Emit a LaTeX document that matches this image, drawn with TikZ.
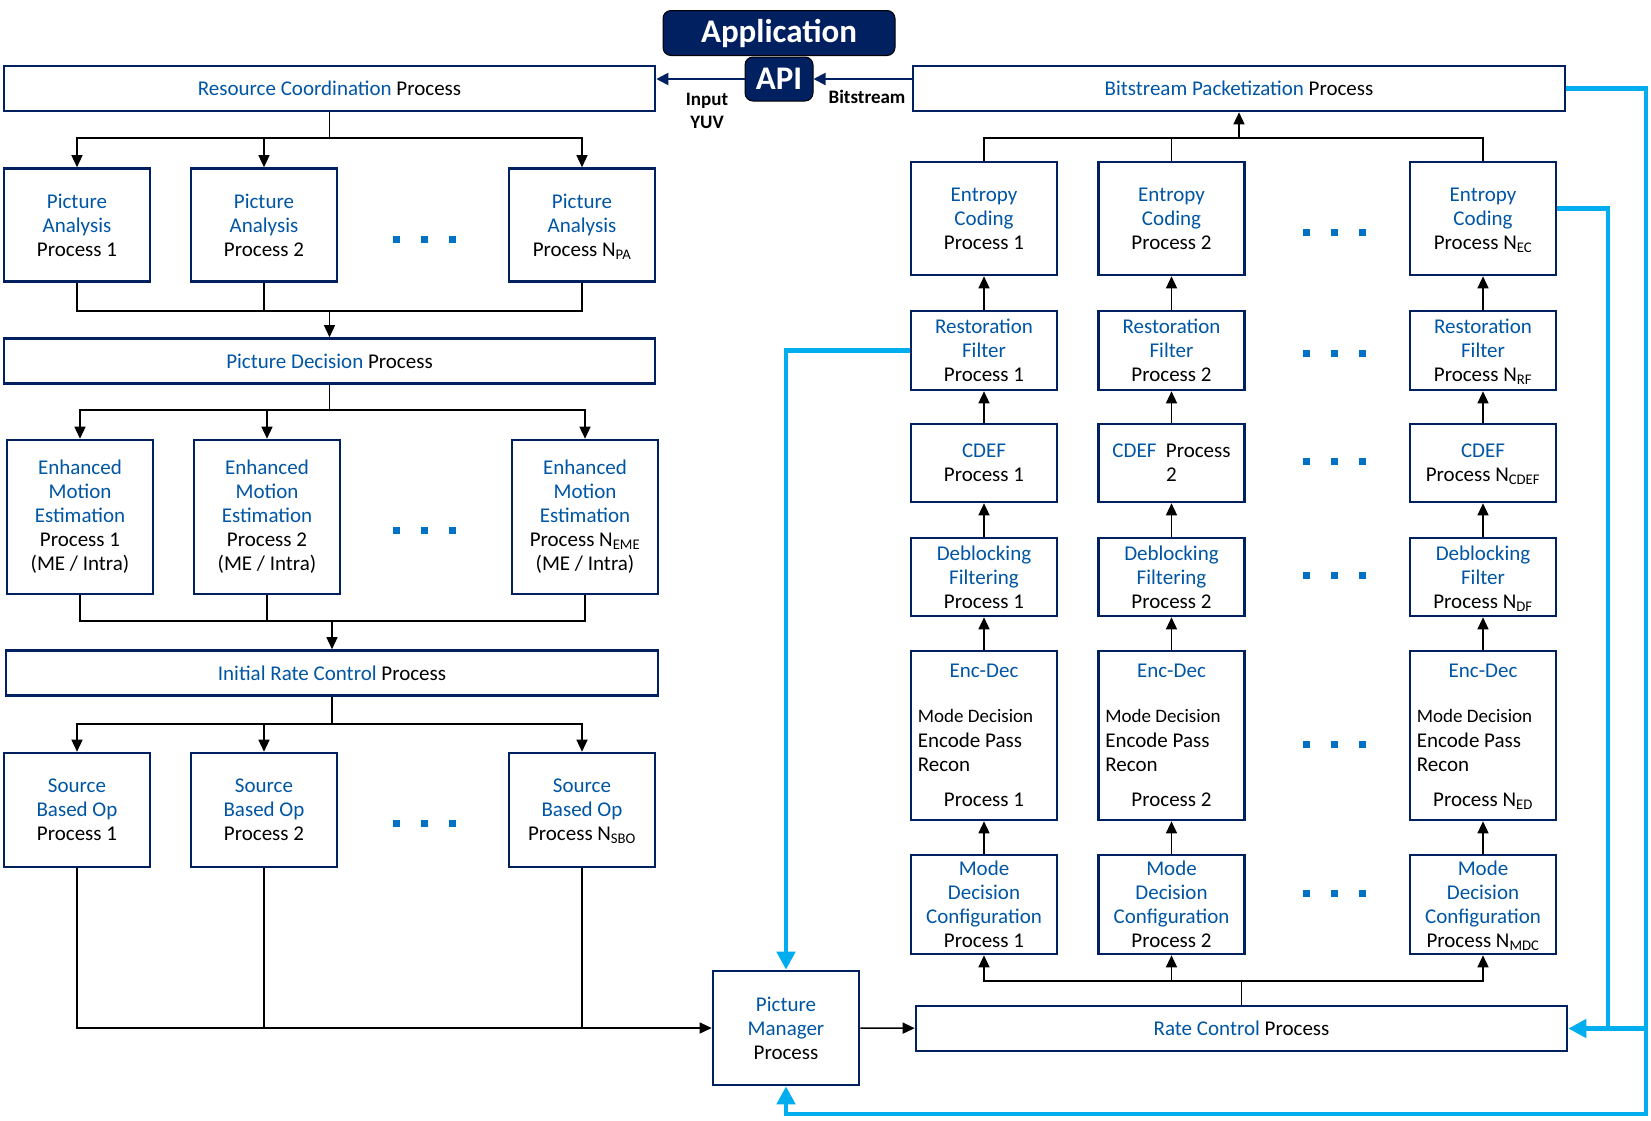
\documentclass[tikz,border=0pt]{standalone}
\usepackage{fontspec}
\setmainfont{Carlito}
\usepackage{tikz}
\usetikzlibrary{arrows.meta,positioning}

\definecolor{boxnavy}{RGB}{0,32,96}
\definecolor{procblue}{RGB}{0,86,164}
\definecolor{dotblue}{RGB}{0,113,197}
\definecolor{fbcyan}{RGB}{0,174,239}
\newcommand{\bl}[1]{\textcolor{procblue}{#1}}
\newcommand{\Nsub}[1]{N\smash{\textsubscript{#1}}}
\newcommand{\dotrow}[2]{\foreach \dx in {-1,0,1} \fill[dotblue] (#1+\dx*28-3.5,#2-3.5) rectangle ++(7,7);}

\begin{document}
\begin{tikzpicture}[x=1pt,y=-1pt,
  procbox/.style={draw=boxnavy,line width=2.6pt,fill=white,minimum width=146pt,
    align=center,inner sep=2pt,font=\fontsize{21}{24}\selectfont},
  widebox/.style={procbox,minimum width=651pt,minimum height=45pt},
  ]
  \tikzset{%
    appbox/.style={
      draw=black,line width=1pt,fill=boxnavy,rounded corners=8pt,
      text=white,font=\fontsize{33}{36}\selectfont\bfseries,
    },
    lbl/.style={align=center,inner sep=0pt,font=\fontsize{19}{23}\selectfont\bfseries},
    txt/.style={align=center,inner sep=0pt,font=\fontsize{21}{24}\selectfont},
    link/.style={line width=1.4pt},
    flow/.style={link,-{Triangle[width=11pt,length=12pt]}},
    apiflow/.style={draw=boxnavy,line width=2pt,-{Triangle[width=12pt,length=12pt]}},
    fbline/.style={draw=fbcyan,line width=4.5pt},
    fb/.style={fbline,-{Triangle[width=18pt,length=18pt]}},
  }
  \useasboundingbox (0,0) rectangle (1651,1120);
  %Top
  \node[appbox,minimum width=232pt,minimum height=45pt] (app) at (779,33) {Application};
  \node[appbox,minimum width=68pt,minimum height=44pt] (api) at (779,79) {API};
  \node[lbl] (inyuv) at (707,111) {Input\\YUV};
  \node[lbl] (bslbl) at (867,97) {Bitstream};
  %Left side
  \node[widebox] (res) at (329.5,88.5) {\bl{Resource Coordination} Process};
  \node[procbox,minimum height=113pt] (pa1) at (77,225) {\bl{Picture}\\\bl{Analysis}\\Process 1};
  \node[procbox,minimum height=113pt] (pa2) at (264,225) {\bl{Picture}\\\bl{Analysis}\\Process 2};
  \node[procbox,minimum height=113pt] (pa3) at (582,225) {\bl{Picture}\\\bl{Analysis}\\Process \Nsub{PA}};
  \node[widebox] (pd) at (329.5,361) {\bl{Picture Decision} Process};
  \node[procbox,minimum height=154pt] (eme1) at (80,517) {\bl{Enhanced}\\\bl{Motion}\\\bl{Estimation}\\Process 1\\(ME / Intra)};
  \node[procbox,minimum height=154pt] (eme2) at (267,517) {\bl{Enhanced}\\\bl{Motion}\\\bl{Estimation}\\Process 2\\(ME / Intra)};
  \node[procbox,minimum height=154pt] (eme3) at (585,517) {\bl{Enhanced}\\\bl{Motion}\\\bl{Estimation}\\Process \Nsub{EME}\\(ME / Intra)};
  \node[widebox,minimum width=652pt] (irc) at (332,673) {\bl{Initial Rate Control} Process};
  \node[procbox,minimum height=114pt] (sbo1) at (77,810) {\bl{Source}\\\bl{Based Op}\\Process 1};
  \node[procbox,minimum height=114pt] (sbo2) at (264,810) {\bl{Source}\\\bl{Based Op}\\Process 2};
  \node[procbox,minimum height=114pt] (sbo3) at (582,810) {\bl{Source}\\\bl{Based Op}\\Process \Nsub{SBO}};
  \node[procbox,minimum height=114pt] (pm) at (786,1028) {\bl{Picture}\\\bl{Manager}\\Process};
  %Right side
  \node[widebox,minimum width=652pt] (bp) at (1239,88.5) {\bl{Bitstream Packetization} Process};
  \node[widebox] (rc) at (1241.5,1028.5) {\bl{Rate Control} Process};
  \node[procbox,minimum height=113pt] (ec1) at (984,218.5) {\bl{Entropy}\\\bl{Coding}\\Process 1};
  \node[procbox,minimum height=113pt] (ec2) at (1171.5,218.5) {\bl{Entropy}\\\bl{Coding}\\Process 2};
  \node[procbox,minimum height=113pt] (ec3) at (1483,218.5) {\bl{Entropy}\\\bl{Coding}\\Process \Nsub{EC}};
  \node[procbox,minimum height=79pt] (rf1) at (984,350.5) {\bl{Restoration}\\\bl{Filter}\\Process 1};
  \node[procbox,minimum height=79pt] (rf2) at (1171.5,350.5) {\bl{Restoration}\\\bl{Filter}\\Process 2};
  \node[procbox,minimum height=79pt] (rf3) at (1483,350.5) {\bl{Restoration}\\\bl{Filter}\\Process \Nsub{RF}};
  \node[procbox,minimum height=78pt] (cd1) at (984,463) {\bl{CDEF}\\Process 1};
  \node[procbox,minimum height=78pt] (cd2) at (1171.5,463) {\bl{CDEF}\ \ Process\\2};
  \node[procbox,minimum height=78pt] (cd3) at (1483,463) {\bl{CDEF}\\Process \Nsub{CDEF}};
  \node[procbox,minimum height=78pt] (db1) at (984,577) {\bl{Deblocking}\\\bl{Filtering}\\Process 1};
  \node[procbox,minimum height=78pt] (db2) at (1171.5,577) {\bl{Deblocking}\\\bl{Filtering}\\Process 2};
  \node[procbox,minimum height=78pt] (db3) at (1483,577) {\bl{Deblocking}\\\bl{Filter}\\Process \Nsub{DF}};
  \node[procbox,minimum height=169pt] (ed1) at (984,735.5) {};
  \node[procbox,minimum height=169pt] (ed2) at (1171.5,735.5) {};
  \node[procbox,minimum height=169pt] (ed3) at (1483,735.5) {};
  \node[procbox,minimum height=99pt] (mdc1) at (984,904.5) {\bl{Mode}\\\bl{Decision}\\\bl{Configuration}\\Process 1};
  \node[procbox,minimum height=99pt] (mdc2) at (1171.5,904.5) {\bl{Mode}\\\bl{Decision}\\\bl{Configuration}\\Process 2};
  \node[procbox,minimum height=99pt] (mdc3) at (1483,904.5) {\bl{Mode}\\\bl{Decision}\\\bl{Configuration}\\Process \Nsub{MDC}};
  %Enc-Dec texts
  \foreach \c/\p in {1/1,2/2,3/\Nsub{ED}} {
    \node[txt] (ed\c a) at ([yshift=65pt]ed\c.center) {\bl{Enc-Dec}};
    \node[txt,align=left,anchor=west] (ed\c b) at ([xshift=8pt,yshift=-4.5pt]ed\c.west)
      {{\fontsize{19}{22}\selectfont Mode Decision}\\[1pt]Encode Pass\\Recon};
    \node[txt] (ed\c c) at ([yshift=-64.5pt]ed\c.center) {Process \p};
  }
  %Dots
  \dotrow{424}{239} \dotrow{424}{530} \dotrow{424}{823}
  \dotrow{1334}{232} \dotrow{1334}{353} \dotrow{1334}{461}
  \dotrow{1334}{575} \dotrow{1334}{744} \dotrow{1334}{893}
  %Joins
  \coordinate (resJ) at (329.5,138);
  \coordinate (paJ) at (329.5,311);
  \coordinate (pdJ) at (329.5,410);
  \coordinate (emeJ) at (332,621);
  \coordinate (ircJ) at (332,724);
  \coordinate (ecJ) at (1239,138);
  \coordinate (rcJ) at (1241.5,981);
  \coordinate (fbOut) at (1646,1114);
  \coordinate (fbIn) at (1608,1028.5);
  %Lines
  \draw[apiflow] (bp.west |- api) -- (api);
  \draw[apiflow] (api) -- (res.east |- api);
  \draw[link] (res) -- (resJ);
  \foreach \n in {pa1,pa2,pa3} \draw[flow] (resJ) -| (\n);
  \foreach \n in {pa1,pa2,pa3} \draw[link] (\n) |- (paJ);
  \draw[flow] (paJ) -- (pd);
  \draw[link] (pd) -- (pdJ);
  \foreach \n in {eme1,eme2,eme3} \draw[flow] (pdJ) -| (\n);
  \foreach \n in {eme1,eme2,eme3} \draw[link] (\n) |- (emeJ);
  \draw[flow] (emeJ) -- (irc);
  \draw[link] (irc) -- (ircJ);
  \foreach \n in {sbo1,sbo2,sbo3} \draw[flow] (ircJ) -| (\n);
  \draw[flow] (sbo1) |- (pm);
  \draw[link] (sbo2) -- (sbo2 |- pm);
  \draw[link] (sbo3) -- (sbo3 |- pm);
  \draw[flow] (pm) -- (rc);
  \draw[link] (rc) -- (rcJ);
  \foreach \c in {1,2,3} {
    \draw[flow] (rcJ) -| (mdc\c);
    \draw[flow] (mdc\c) -- (ed\c);
    \draw[flow] (ed\c) -- (db\c);
    \draw[flow] (db\c) -- (cd\c);
    \draw[flow] (cd\c) -- (rf\c);
    \draw[flow] (rf\c) -- (ec\c);
    \draw[link] (ec\c) |- (ecJ);
  }
  \draw[flow] (ecJ) -- (ecJ |- bp.south);
  %Feedback
  \draw[fb] (rf1) -| (pm);
  \draw[fbline] ([yshift=10pt]ec3.east) -| (fbIn);
  \draw[fb] (bp) -| (fbOut) -| (pm);
  \draw[fb] (fbOut |- rc) -- (rc);
\end{tikzpicture}
\end{document}
